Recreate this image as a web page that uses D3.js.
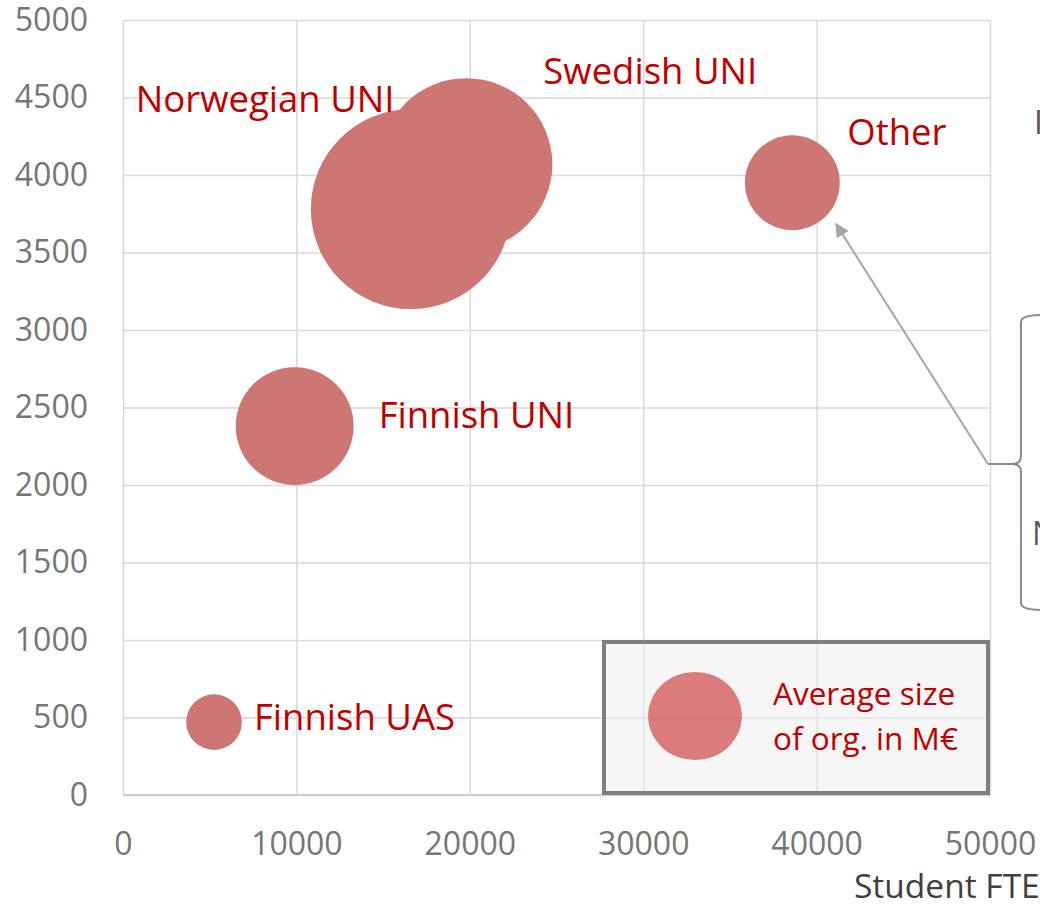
<!DOCTYPE html>
<html>
<head>
<meta charset="utf-8">
<script src="https://cdn.jsdelivr.net/npm/d3@7"></script>
<style>
  html, body { margin: 0; padding: 0; background: #fff; }
  svg { display: block; font-family: "Open Sans", "Noto Sans", sans-serif; }
</style>
</head>
<body>
<div id="chart"></div>
<script>
// data
const groups = ["Finnish UAS", "Finnish UNI", "Norwegian UNI", "Swedish UNI", "Other"];
const studentFte = [5250, 9900, 16600, 19800, 38600];
const personnel = [470, 2380, 3780, 4070, 3950];
const sizeMEur = [31, 139, 400, 296, 90];
const legendSize = 88;
const legendLines = ["Average size", "of org. in M€"];
const xTicks = [0, 10000, 20000, 30000, 40000, 50000];
const yTicks = [0, 500, 1000, 1500, 2000, 2500, 3000, 3500, 4000, 4500, 5000];
const xTitle = "Student FTE";

// where each label sits relative to its bubble (px)
const labelOffset = {
  "Finnish UAS": [40, 8],
  "Finnish UNI": [84, 2],
  "Norwegian UNI": [-275, -97],
  "Swedish UNI": [77, -80],
  "Other": [55, -38]
};

const width = 1040, height = 904;
const margin = { top: 20, right: 50, bottom: 109, left: 123 };

const svg = d3.select("#chart").append("svg")
  .attr("width", width)
  .attr("height", height);

const x = d3.scaleLinear().domain([0, 50000]).range([margin.left, width - margin.right]);
const y = d3.scaleLinear().domain([0, 5000]).range([height - margin.bottom, margin.top]);
const r = d3.scaleSqrt().domain([0, 400]).range([0, 100]);

const gridColor = "#d9d9d9";

// y axis + horizontal grid
const yAxis = svg.append("g")
  .attr("transform", `translate(${margin.left},0)`)
  .call(d3.axisLeft(y).tickValues(yTicks).tickFormat(d3.format("d"))
    .tickSize(-(x.range()[1] - x.range()[0])).tickPadding(35));
yAxis.select(".domain").remove();
yAxis.selectAll(".tick line").attr("stroke", gridColor).attr("stroke-width", 1.5);
yAxis.selectAll(".tick text")
  .attr("fill", "#767676").style("font-size", "32px").style("font-family", "Open Sans");

// x axis + vertical grid
const xAxis = svg.append("g")
  .attr("transform", `translate(0,${y(0)})`)
  .call(d3.axisBottom(x).tickValues(xTicks).tickFormat(d3.format("d"))
    .tickSize(-(y.range()[0] - y.range()[1])).tickPadding(37));
xAxis.select(".domain").remove();
xAxis.selectAll(".tick line").attr("stroke", gridColor).attr("stroke-width", 1.5);
xAxis.selectAll(".tick text")
  .attr("fill", "#767676").style("font-size", "32px").style("font-family", "Open Sans");

// bottom axis line a bit darker
svg.append("line")
  .attr("x1", x(0)).attr("x2", x(50000))
  .attr("y1", y(0)).attr("y2", y(0))
  .attr("stroke", "#cfcfcf").attr("stroke-width", 2);

svg.append("text")
  .attr("x", 854).attr("y", 898)
  .attr("fill", "#404040")
  .style("font-size", "33.5px")
  .text(xTitle);

// legend box
svg.append("rect")
  .attr("x", 604).attr("y", 642)
  .attr("width", 384).attr("height", 151)
  .attr("fill", "#eeeeee").attr("fill-opacity", 0.5)
  .attr("stroke", "#7f7f7f").attr("stroke-width", 4);

svg.append("ellipse")
  .attr("cx", 695).attr("cy", 716)
  .attr("rx", r(legendSize)).attr("ry", r(legendSize) * 0.94)
  .attr("fill", "#c00000").attr("fill-opacity", 0.5);

svg.append("text")
  .attr("x", 773).attr("y", 705)
  .attr("fill", "#c00000")
  .style("font-size", "31.5px")
  .selectAll("tspan")
  .data(legendLines)
  .join("tspan")
  .attr("x", 773)
  .attr("dy", (d, i) => i === 0 ? 0 : 45)
  .text(d => d);

// bubbles
const points = groups.map((g, i) => ({ name: g, x: studentFte[i], y: personnel[i], s: sizeMEur[i] }));

svg.append("g")
  .selectAll("circle")
  .data(points)
  .join("circle")
  .attr("cx", d => x(d.x))
  .attr("cy", d => y(d.y))
  .attr("r", d => r(d.s))
  .attr("fill", "#cd7674");

svg.append("g")
  .selectAll("text")
  .data(points)
  .join("text")
  .attr("x", d => x(d.x) + labelOffset[d.name][0])
  .attr("y", d => y(d.y) + labelOffset[d.name][1])
  .attr("fill", "#c00000")
  .style("font-size", "36.5px")
  .text(d => d.name);

// callout: brace + arrow to "Other"
const defs = svg.append("defs");
defs.append("marker")
  .attr("id", "arrow")
  .attr("viewBox", "0 0 10 10")
  .attr("refX", 9).attr("refY", 5)
  .attr("markerWidth", 7).attr("markerHeight", 7)
  .attr("orient", "auto-start-reverse")
  .append("path")
  .attr("d", "M0,0L10,5L0,10z")
  .attr("fill", "#a6a6a6");

svg.append("line")
  .attr("x1", 988).attr("y1", 464)
  .attr("x2", 836).attr("y2", 224)
  .attr("stroke", "#a6a6a6").attr("stroke-width", 2)
  .attr("marker-end", "url(#arrow)");

svg.append("path")
  .attr("d", "M1042,315 Q1021,315 1021,322 L1021,456 Q1021,464 1012,464 L988,464 M1012,464 Q1021,464 1021,472 L1021,603 Q1021,610 1042,610")
  .attr("fill", "none")
  .attr("stroke", "#8c8c8c").attr("stroke-width", 2);

svg.append("text")
  .attr("x", 1034).attr("y", 134)
  .attr("fill", "#595959")
  .style("font-size", "32px")
  .text("In");

svg.append("text")
  .attr("x", 1032).attr("y", 545)
  .attr("fill", "#595959")
  .style("font-size", "32px")
  .text("N");
</script>
</body>
</html>
